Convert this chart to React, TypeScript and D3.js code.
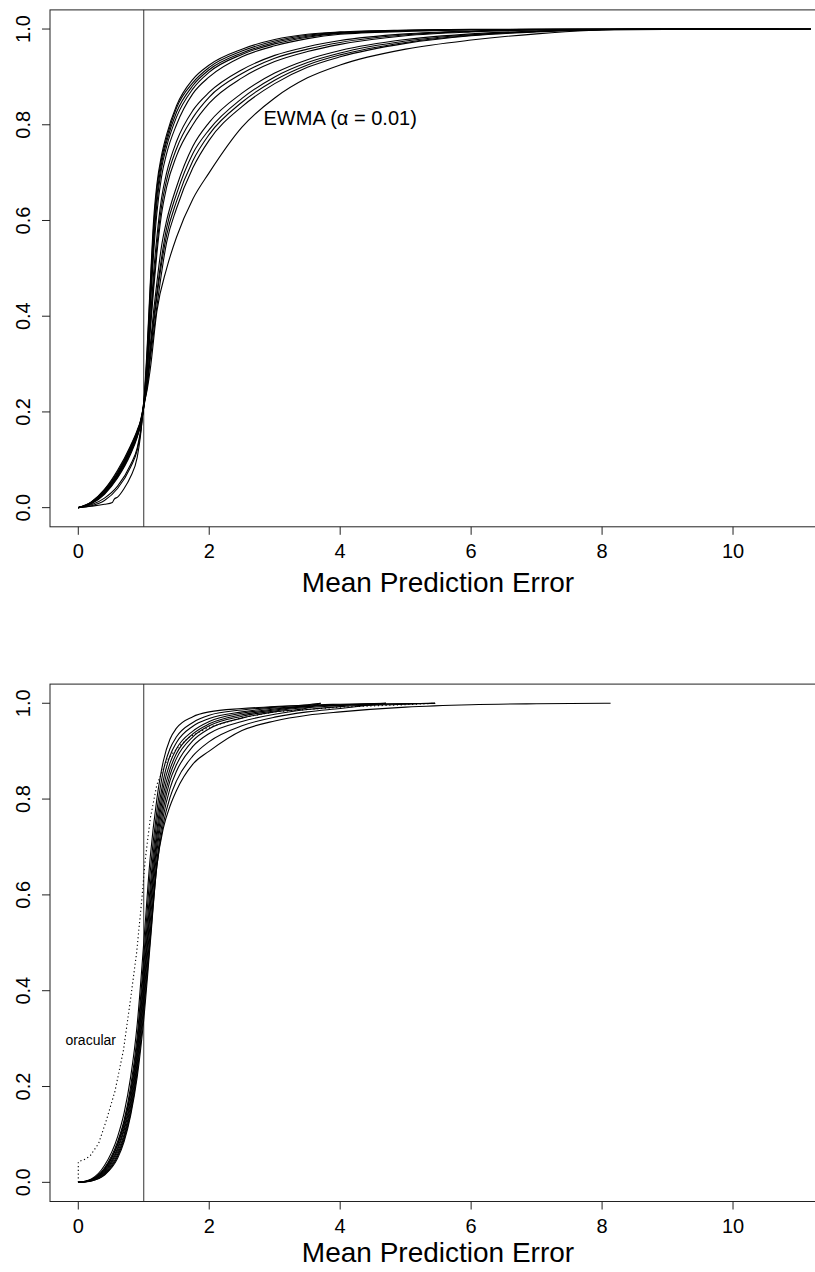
import React from 'react';
import * as d3 from 'd3';

type Pt = [number, number];

// Axis ticks and labels
const xTicks = [0, 2, 4, 6, 8, 10];
const yTicks = [0, 0.2, 0.4, 0.6, 0.8, 1.0];
const xTitle = 'Mean Prediction Error';
const refLineX = 1;

// Upper panel: empirical CDFs of mean prediction error, one per method
const topCurves: Pt[][] = [
  [[0,0],[0.2,0.012],[0.4,0.037],[0.6,0.075],[0.8,0.128],[0.9,0.16],[0.95,0.18],[1.0,0.22],[1.05,0.33],[1.1,0.47],[1.15,0.6],[1.2,0.675],[1.27,0.735],[1.35,0.78],[1.5,0.84],[1.75,0.895],[2.0,0.925],[2.5,0.958],[3.0,0.978],[3.5,0.989],[4.0,0.994],[5,0.998],[6,0.9995],[10.2,1]],
  [[0,0],[0.2,0.011],[0.4,0.035],[0.6,0.072],[0.8,0.125],[0.9,0.158],[0.95,0.18],[1.0,0.215],[1.05,0.32],[1.1,0.46],[1.15,0.585],[1.2,0.665],[1.27,0.727],[1.35,0.772],[1.5,0.835],[1.75,0.888],[2.0,0.92],[2.5,0.954],[3.0,0.975],[3.5,0.987],[4.0,0.993],[5,0.997],[6,0.999],[11.19,1]],
  [[0,0],[0.2,0.012],[0.4,0.038],[0.6,0.078],[0.8,0.13],[0.9,0.162],[0.95,0.182],[1.0,0.22],[1.05,0.31],[1.1,0.44],[1.15,0.565],[1.2,0.65],[1.27,0.718],[1.35,0.765],[1.5,0.826],[1.75,0.882],[2.0,0.915],[2.5,0.95],[3.0,0.972],[3.5,0.985],[4.0,0.992],[5,0.997],[6,0.999],[9.6,1]],
  [[0,0],[0.2,0.01],[0.4,0.032],[0.6,0.068],[0.8,0.12],[0.9,0.152],[0.95,0.175],[1.0,0.21],[1.05,0.3],[1.1,0.43],[1.15,0.55],[1.2,0.635],[1.27,0.708],[1.35,0.755],[1.5,0.816],[1.75,0.875],[2.0,0.91],[2.5,0.947],[3.0,0.969],[3.5,0.983],[4.0,0.991],[5,0.996],[6,0.999],[10.7,1]],
  [[0,0],[0.2,0.01],[0.4,0.033],[0.6,0.07],[0.8,0.122],[0.9,0.156],[0.95,0.178],[1.0,0.215],[1.05,0.3],[1.1,0.42],[1.15,0.53],[1.2,0.615],[1.27,0.69],[1.35,0.74],[1.5,0.80],[1.75,0.865],[2.0,0.90],[2.5,0.942],[3.0,0.965],[3.5,0.98],[4.0,0.989],[5,0.995],[6,0.998],[7,0.9995],[8.9,1]],
  [[0,0],[0.2,0.008],[0.4,0.028],[0.6,0.062],[0.8,0.112],[0.9,0.147],[0.95,0.172],[1.0,0.215],[1.05,0.29],[1.1,0.39],[1.15,0.49],[1.2,0.565],[1.27,0.645],[1.35,0.70],[1.5,0.765],[1.75,0.83],[2.0,0.868],[2.5,0.915],[3.0,0.945],[3.5,0.963],[4.0,0.976],[5,0.99],[6,0.996],[7,0.999],[11.19,1]],
  [[0,0],[0.2,0.009],[0.4,0.03],[0.6,0.065],[0.8,0.116],[0.9,0.15],[0.95,0.173],[1.0,0.21],[1.05,0.28],[1.1,0.38],[1.15,0.47],[1.2,0.545],[1.27,0.628],[1.35,0.685],[1.5,0.75],[1.75,0.815],[2.0,0.858],[2.5,0.907],[3.0,0.939],[3.5,0.958],[4.0,0.972],[5,0.988],[6,0.995],[7,0.998],[10.0,1]],
  [[0,0],[0.2,0.004],[0.4,0.015],[0.6,0.04],[0.8,0.085],[0.9,0.12],[0.95,0.155],[1.0,0.215],[1.05,0.28],[1.1,0.37],[1.15,0.455],[1.2,0.53],[1.27,0.612],[1.35,0.67],[1.5,0.735],[1.75,0.80],[2.0,0.845],[2.5,0.898],[3.0,0.932],[3.5,0.953],[4.0,0.968],[5,0.986],[6,0.994],[7,0.998],[9.3,1]],
  [[0,0],[0.2,0.01],[0.4,0.034],[0.6,0.07],[0.8,0.123],[0.9,0.155],[0.95,0.177],[1.0,0.21],[1.05,0.26],[1.1,0.34],[1.15,0.41],[1.2,0.47],[1.27,0.545],[1.35,0.60],[1.5,0.67],[1.75,0.755],[2.0,0.805],[2.5,0.866],[3.0,0.908],[3.5,0.936],[4.0,0.955],[5,0.978],[6,0.99],[7,0.996],[8,0.999],[11.19,1]],
  [[0,0],[0.2,0.003],[0.4,0.007],[0.52,0.011],[0.55,0.018],[0.6,0.022],[0.7,0.04],[0.8,0.065],[0.9,0.105],[0.95,0.15],[1.0,0.215],[1.05,0.26],[1.1,0.33],[1.2,0.45],[1.35,0.585],[1.5,0.655],[1.75,0.74],[2.0,0.79],[2.5,0.855],[3.0,0.9],[3.5,0.93],[4.0,0.95],[5,0.975],[6,0.988],[7,0.995],[8,0.999],[10.4,1]],
  [[0,0],[0.2,0.006],[0.4,0.02],[0.6,0.045],[0.8,0.09],[0.9,0.125],[0.95,0.16],[1.0,0.215],[1.05,0.255],[1.1,0.32],[1.2,0.44],[1.35,0.57],[1.5,0.64],[1.75,0.725],[2.0,0.78],[2.5,0.847],[3.0,0.893],[3.5,0.925],[4.0,0.946],[5,0.972],[6,0.987],[7,0.995],[8,0.999],[11.19,1]],
  [[0,0],[0.2,0.009],[0.4,0.03],[0.6,0.064],[0.8,0.115],[0.9,0.15],[0.95,0.172],[1.0,0.21],[1.05,0.25],[1.1,0.31],[1.2,0.42],[1.35,0.555],[1.5,0.625],[1.75,0.71],[2.0,0.768],[2.5,0.838],[3.0,0.886],[3.5,0.92],[4.0,0.942],[5,0.97],[6,0.986],[7,0.994],[8,0.998],[9.9,1]],
];

// EWMA smoother with alpha = 0.01 (the slowest-rising curve)
const ewmaCurve: Pt[] = [[0,0],[0.2,0.01],[0.4,0.033],[0.6,0.068],[0.8,0.12],[0.9,0.153],[0.95,0.176],[1.0,0.215],[1.05,0.245],[1.1,0.29],[1.2,0.41],[1.35,0.5],[1.5,0.565],[1.75,0.645],[2.0,0.70],[2.5,0.795],[3.0,0.856],[3.5,0.898],[4.0,0.925],[5,0.958],[6,0.977],[7,0.99],[7.8,0.997],[8.5,0.9995],[11.19,1]];
const ewmaLabel = { text: 'EWMA (\u03b1 = 0.01)', x: 4.0, y: 0.815 };

// Lower panel: empirical CDFs per method
const bottomCurves: Pt[][] = [
  [[0,0],[0.2,0.007],[0.4,0.035],[0.6,0.095],[0.7,0.145],[0.8,0.22],[0.9,0.33],[1.0,0.5],[1.1,0.68],[1.2,0.8],[1.3,0.88],[1.4,0.925],[1.5,0.948],[1.75,0.972],[2.0,0.982],[2.5,0.989],[3.0,0.993],[3.5,0.997],[3.7,1]],
  [[0,0],[0.2,0.006],[0.4,0.03],[0.6,0.085],[0.7,0.13],[0.8,0.2],[0.9,0.305],[1.0,0.47],[1.1,0.65],[1.2,0.775],[1.3,0.86],[1.4,0.905],[1.5,0.93],[1.75,0.96],[2.0,0.975],[2.5,0.986],[3.0,0.992],[3.5,0.996],[4.0,0.998],[4.7,1]],
  [[0,0],[0.2,0.006],[0.4,0.028],[0.6,0.08],[0.7,0.125],[0.8,0.19],[0.9,0.29],[1.0,0.45],[1.1,0.62],[1.2,0.755],[1.3,0.84],[1.4,0.89],[1.5,0.918],[1.75,0.952],[2.0,0.968],[2.5,0.982],[3.0,0.99],[3.5,0.995],[3.7,1]],
  [[0,0],[0.2,0.005],[0.4,0.026],[0.6,0.078],[0.7,0.12],[0.8,0.185],[0.9,0.28],[1.0,0.43],[1.1,0.6],[1.2,0.735],[1.3,0.825],[1.4,0.875],[1.5,0.905],[1.75,0.942],[2.0,0.962],[2.5,0.979],[3.0,0.988],[3.5,0.994],[4.0,0.997],[5.45,1]],
  [[0,0],[0.2,0.005],[0.4,0.024],[0.6,0.072],[0.7,0.113],[0.8,0.175],[0.9,0.27],[1.0,0.415],[1.1,0.58],[1.2,0.72],[1.3,0.81],[1.4,0.862],[1.5,0.895],[1.75,0.936],[2.0,0.957],[2.5,0.976],[3.0,0.986],[3.5,0.993],[4.0,0.996],[4.7,1]],
  [[0,0],[0.2,0.005],[0.4,0.022],[0.6,0.068],[0.7,0.108],[0.8,0.168],[0.9,0.26],[1.0,0.4],[1.1,0.565],[1.2,0.705],[1.3,0.795],[1.4,0.85],[1.5,0.885],[1.75,0.93],[2.0,0.953],[2.5,0.973],[3.0,0.984],[3.5,0.991],[4.0,0.995],[5.0,0.999],[5.45,1]],
  [[0,0],[0.2,0.004],[0.4,0.02],[0.6,0.063],[0.7,0.1],[0.8,0.16],[0.9,0.25],[1.0,0.385],[1.1,0.545],[1.2,0.69],[1.3,0.78],[1.4,0.838],[1.5,0.872],[1.75,0.922],[2.0,0.947],[2.5,0.969],[3.0,0.982],[3.5,0.99],[3.7,1]],
  [[0,0],[0.2,0.004],[0.4,0.018],[0.6,0.058],[0.7,0.095],[0.8,0.152],[0.9,0.24],[1.0,0.37],[1.1,0.525],[1.2,0.672],[1.3,0.765],[1.4,0.822],[1.5,0.858],[1.75,0.91],[2.0,0.937],[2.5,0.962],[3.0,0.977],[3.5,0.987],[4.0,0.993],[5.0,0.998],[5.45,1]],
  [[0,0],[0.2,0.003],[0.4,0.016],[0.6,0.054],[0.7,0.09],[0.8,0.145],[0.9,0.23],[1.0,0.355],[1.1,0.51],[1.2,0.66],[1.3,0.75],[1.4,0.803],[1.5,0.838],[1.75,0.89],[2.0,0.92],[2.5,0.953],[3.0,0.971],[3.5,0.982],[4.0,0.989],[4.7,1]],
  [[0,0],[0.2,0.003],[0.4,0.015],[0.6,0.05],[0.7,0.085],[0.8,0.14],[0.9,0.22],[1.0,0.34],[1.1,0.5],[1.2,0.66],[1.3,0.74],[1.4,0.785],[1.5,0.818],[1.75,0.873],[2.0,0.9],[2.5,0.943],[3.0,0.963],[3.5,0.975],[4.0,0.982],[5.0,0.992],[6.0,0.997],[7.0,0.999],[8.13,1]],
];

// Oracular benchmark, drawn dotted
const oracularCurve: Pt[] = [[0,0],[0,0.043],[0.1,0.048],[0.18,0.055],[0.31,0.081],[0.43,0.13],[0.56,0.19],[0.69,0.276],[0.79,0.374],[0.89,0.478],[0.97,0.59],[1.02,0.67],[1.1,0.76],[1.2,0.83],[1.35,0.88],[1.5,0.905],[1.7,0.93],[2.0,0.95],[2.5,0.97],[3.0,0.982],[4.0,0.992],[5.0,0.997],[5.45,1]];
const oracularLabel = { text: 'oracular', x: 0.19, y: 0.298 };

const W = 815;
const H = 1272;
const FONT = '"Liberation Sans", Arial, Helvetica, sans-serif';
const plotLeft = 50;
const plotRight = 826;

const x = d3.scaleLinear().domain([-0.432, 11.42]).range([plotLeft, plotRight]);

interface PanelProps {
  top: number;
  bottom: number;
  titleOffset: number;
  curves: Pt[][];
  children?: (y: d3.ScaleLinear<number, number>) => React.ReactNode;
}

function Panel({ top, bottom, titleOffset, curves, children }: PanelProps) {
  const y = d3.scaleLinear().domain([-0.04, 1.04]).range([bottom, top]);
  const line = d3
    .line<Pt>()
    .x((d) => x(d[0]))
    .y((d) => y(d[1]))
    .curve(d3.curveMonotoneX);
  const axisColor = '#222';
  return (
    <g>
      {/* reference line at error = 1 */}
      <line x1={x(refLineX)} x2={x(refLineX)} y1={top} y2={bottom} stroke="#333" strokeWidth={1} />
      {curves.map((c, i) => (
        <path key={i} d={line(c) || ''} fill="none" stroke="#000" strokeWidth={1.1} strokeLinejoin="round" />
      ))}
      {children && children(y)}
      {/* plot frame */}
      <rect x={plotLeft} y={top} width={plotRight - plotLeft} height={bottom - top} fill="none" stroke={axisColor} strokeWidth={1} />
      {/* x axis */}
      {xTicks.map((t) => (
        <g key={'x' + t}>
          <line x1={x(t)} x2={x(t)} y1={bottom} y2={bottom + 8} stroke={axisColor} strokeWidth={1} />
          <text x={x(t)} y={bottom + 31} textAnchor="middle" fontSize={20} fontFamily={FONT} fill="#000">
            {t}
          </text>
        </g>
      ))}
      {/* y axis */}
      {yTicks.map((t) => (
        <g key={'y' + t}>
          <line x1={plotLeft - 8} x2={plotLeft} y1={y(t)} y2={y(t)} stroke={axisColor} strokeWidth={1} />
          <text
            transform={`translate(30,${y(t)}) rotate(-90)`}
            textAnchor="middle"
            fontSize={20}
            fontFamily={FONT}
            fill="#000"
          >
            {d3.format('.1f')(t)}
          </text>
        </g>
      ))}
      <text x={(plotLeft + plotRight) / 2} y={bottom + titleOffset} textAnchor="middle" fontSize={28} fontFamily={FONT} fill="#000">
        {xTitle}
      </text>
    </g>
  );
}

export default function App() {
  const dotted = d3
    .line<Pt>()
    .x((d) => x(d[0]))
    .curve(d3.curveLinear);
  return (
    <svg width={W} height={H} style={{ position: 'absolute', left: 0, top: 0, background: '#fff' }}>
      <rect width={W} height={H} fill="#fff" />
      <Panel top={9.9} bottom={526.8} titleOffset={65} curves={[...topCurves, ewmaCurve]}>
        {(y) => (
          <text x={x(ewmaLabel.x)} y={y(ewmaLabel.y)} dy="0.36em" textAnchor="middle" fontSize={20} fontFamily={FONT} fill="#000">
            {ewmaLabel.text}
          </text>
        )}
      </Panel>
      <Panel top={684.1} bottom={1201.5} titleOffset={60} curves={bottomCurves}>
        {(y) => (
          <g>
            <path
              d={dotted.y((d) => y(d[1]))(oracularCurve) || ''}
              fill="none"
              stroke="#000"
              strokeWidth={1.1}
              strokeDasharray="1.2 2.6"
            />
            <text x={x(oracularLabel.x)} y={y(oracularLabel.y)} dy="0.36em" textAnchor="middle" fontSize={14} fontFamily={FONT} fill="#000">
              {oracularLabel.text}
            </text>
          </g>
        )}
      </Panel>
    </svg>
  );
}
